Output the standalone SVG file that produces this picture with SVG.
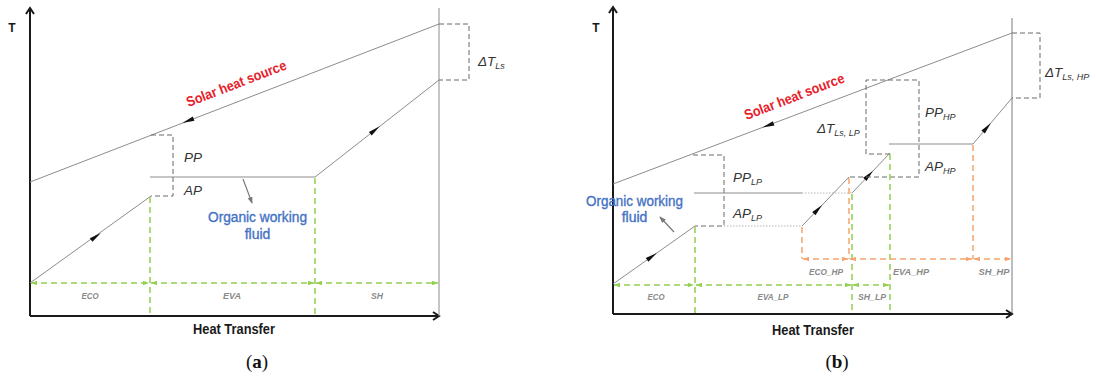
<svg xmlns="http://www.w3.org/2000/svg" width="1096" height="378" viewBox="0 0 1096 378">
<style>
.ax{stroke:#1a1a1a;stroke-width:2;fill:none}
.ln{stroke:#8c8c8c;stroke-width:1;fill:none}
.db{stroke:#6a6a6a;stroke-width:1;stroke-dasharray:5,3;fill:none}
.dot{stroke:#b8b8b8;stroke-width:1.2;stroke-dasharray:1.5,1.5;fill:none}
.gr{stroke:#92D050;stroke-width:1.5;stroke-dasharray:6,4;fill:none}
.og{stroke:#F5A46E;stroke-width:1.5;stroke-dasharray:6,4;fill:none}
.gra{stroke:#92D050;stroke-width:1.5;stroke-dasharray:6,4;fill:none;marker-start:url(#mg);marker-end:url(#mg)}
.oga{stroke:#F5A46E;stroke-width:1.5;stroke-dasharray:6,4;fill:none;marker-start:url(#mo);marker-end:url(#mo)}
.ptr{stroke:#777;stroke-width:1.2;fill:none;marker-end:url(#mp)}
text{font-family:"Liberation Sans",Arial,sans-serif}
.axl{font-weight:bold;font-size:14px;fill:#1a1a1a}
.tl{font-weight:bold;font-size:12px;fill:#1a1a1a}
.lab{font-style:italic;font-size:13.5px;fill:#333}
.sub{font-size:9px}
.seg{font-style:italic;font-weight:bold;font-size:9.5px;fill:#8a8a8a;text-anchor:middle}
.sol{font-weight:bold;font-size:14px;fill:#E8202A;text-anchor:middle}
.org{font-size:14px;fill:#4472C4;stroke:#4472C4;stroke-width:0.35;text-anchor:middle}
.cap{font-family:"Liberation Serif","Times New Roman",serif;font-size:19px;fill:#111;text-anchor:middle}
</style>
<defs>
<marker id="mg" viewBox="0 0 8 6" refX="8" refY="3" markerWidth="6" markerHeight="4.5" markerUnits="userSpaceOnUse" orient="auto-start-reverse"><path d="M0,0 L8,3 L0,6 Z" fill="#92D050"/></marker>
<marker id="mo" viewBox="0 0 8 6" refX="8" refY="3" markerWidth="6" markerHeight="4.5" markerUnits="userSpaceOnUse" orient="auto-start-reverse"><path d="M0,0 L8,3 L0,6 Z" fill="#F5A46E"/></marker>
<marker id="mp" viewBox="0 0 8 6" refX="7" refY="3" markerWidth="7" markerHeight="5" markerUnits="userSpaceOnUse" orient="auto"><path d="M0,0 L8,3 L0,6 Z" fill="#777"/></marker>
<path id="ah" d="M-6,-2.3 L6,0 L-6,2.3 Z" fill="#111"/>
</defs>

<!-- ============ Panel (a) ============ -->
<g id="panel-a">
  <g id="a-axes">
    <line class="ax" x1="30" y1="316" x2="30" y2="8"/>
    <path class="ax" d="M26,14 L30,8 L34,14" stroke-width="1.5"/>
    <line class="ax" x1="30" y1="316" x2="439" y2="316"/>
    <path class="ax" d="M433,312 L439,316 L433,320" stroke-width="1.5"/>
    <line x1="439" y1="8" x2="439" y2="316" stroke="#8c8c8c" stroke-width="1"/>
    <text class="tl" x="12" y="32" text-anchor="middle">T</text>
    <text class="axl" x="234" y="334" text-anchor="middle" textLength="82" lengthAdjust="spacingAndGlyphs">Heat Transfer</text>
    <text class="cap" x="257" y="368">(<tspan font-weight="bold">a</tspan>)</text>
  </g>
  <g id="a-solar">
    <line class="ln" x1="30" y1="182" x2="439" y2="24"/>
    <use href="#ah" transform="translate(188,120.8) rotate(158.8)"/>
    <text class="sol" transform="translate(238,88) rotate(-21)" textLength="106" lengthAdjust="spacingAndGlyphs">Solar heat source</text>
  </g>
  <g id="a-fluid">
    <path class="ln" d="M30,283 L151,196"/>
    <path class="ln" d="M150,177 L315,177 L439,80"/>
    <use href="#ah" transform="translate(96,236.5) rotate(-35.7)"/>
    <use href="#ah" transform="translate(375,130) rotate(-38)"/>
    <line class="ptr" x1="243" y1="179" x2="252" y2="203"/>
    <text class="org" x="257.5" y="222" textLength="99" lengthAdjust="spacingAndGlyphs">Organic working</text>
    <text class="org" x="257.5" y="238.5">fluid</text>
  </g>
  <g id="a-pinch">
    <path class="db" d="M151,135 H173 V196 H151"/>
    <text class="lab" x="184" y="162">PP</text>
    <text class="lab" x="184" y="195">AP</text>
  </g>
  <g id="a-dtls">
    <path class="db" d="M439,24 H469 V80 H439"/>
    <text class="lab" x="478" y="66">ΔT<tspan class="sub" dy="3">Ls</tspan></text>
  </g>
  <g id="a-sections">
    <line class="gr" x1="150" y1="197" x2="150" y2="316"/>
    <line class="gr" x1="315" y1="178" x2="315" y2="316"/>
    <line class="gra" x1="31" y1="283" x2="149" y2="283"/>
    <line class="gra" x1="151" y1="283" x2="314" y2="283"/>
    <line class="gra" x1="316" y1="283" x2="438" y2="283"/>
    <text class="seg" x="90" y="298.5" textLength="17" lengthAdjust="spacingAndGlyphs">ECO</text>
    <text class="seg" x="232" y="298.5" textLength="18" lengthAdjust="spacingAndGlyphs">EVA</text>
    <text class="seg" x="377" y="298.5" textLength="12" lengthAdjust="spacingAndGlyphs">SH</text>
  </g>
</g>

<!-- ============ Panel (b) ============ -->
<g id="panel-b">
  <g id="b-axes">
    <line class="ax" x1="613" y1="314" x2="613" y2="7"/>
    <path class="ax" d="M609,13 L613,7 L617,13" stroke-width="1.5"/>
    <line x1="1012" y1="18" x2="1012" y2="314" stroke="#bdbdbd" stroke-width="2"/>
    <line class="ax" x1="613" y1="314" x2="1012" y2="314"/>
    <path class="ax" d="M1006,310 L1012,314 L1006,318" stroke-width="1.5"/>
    <text class="tl" x="596" y="32" text-anchor="middle">T</text>
    <text class="axl" x="813" y="335" text-anchor="middle" textLength="82" lengthAdjust="spacingAndGlyphs">Heat Transfer</text>
    <text class="cap" x="837" y="368">(<tspan font-weight="bold">b</tspan>)</text>
  </g>
  <g id="b-solar">
    <line class="ln" x1="613" y1="184" x2="1012" y2="33"/>
    <use href="#ah" transform="translate(768,125.4) rotate(159.3)"/>
    <text class="sol" transform="translate(796,101) rotate(-21)" textLength="106" lengthAdjust="spacingAndGlyphs">Solar heat source</text>
  </g>
  <g id="b-fluid">
    <path class="ln" d="M613,284 L695,226"/>
    <path class="ln" d="M694,193 H802"/>
    <path class="dot" d="M724,226 H802"/>
    <path class="dot" d="M802,193 H852"/>
    <path class="ln" d="M802,226 L849,177"/>
    <path class="ln" d="M852,193 L890,153"/>
    <path class="ln" d="M889,144 H973 L1012,98"/>
    <use href="#ah" transform="translate(652,256.4) rotate(-35.3)"/>
    <use href="#ah" transform="translate(818,209.3) rotate(-46.2)"/>
    <use href="#ah" transform="translate(869,175) rotate(-46.5)"/>
    <use href="#ah" transform="translate(987,127.5) rotate(-49.7)"/>
    <line class="ptr" x1="674" y1="232" x2="660" y2="217"/>
    <text class="org" x="634.5" y="205.5" textLength="97" lengthAdjust="spacingAndGlyphs">Organic working</text>
    <text class="org" x="634.5" y="222">fluid</text>
  </g>
  <g id="b-pinch-lp">
    <path class="db" d="M693,155 H724 V226 H695"/>
    <text class="lab" x="733" y="182">PP<tspan class="sub" dy="3">LP</tspan></text>
    <text class="lab" x="733" y="218">AP<tspan class="sub" dy="3">LP</tspan></text>
  </g>
  <g id="b-pinch-hp">
    <path class="db" d="M890,154 H866 V80 H919 V177 H849"/>
    <text class="lab" x="817" y="133">ΔT<tspan class="sub" dy="3">Ls, LP</tspan></text>
    <text class="lab" x="925" y="117">PP<tspan class="sub" dy="3">HP</tspan></text>
    <text class="lab" x="925" y="171">AP<tspan class="sub" dy="3">HP</tspan></text>
  </g>
  <g id="b-dtls-hp">
    <path class="db" d="M1012,33 H1040 V98 H1012"/>
    <text class="lab" x="1045" y="77">ΔT<tspan class="sub" dy="3">Ls, HP</tspan></text>
  </g>
  <g id="b-sections-lp">
    <line class="gr" x1="695" y1="227" x2="695" y2="314"/>
    <line class="gr" x1="852" y1="194" x2="852" y2="314"/>
    <line class="gr" x1="890" y1="154" x2="890" y2="314"/>
    <line class="gra" x1="614" y1="285" x2="694" y2="285"/>
    <line class="gra" x1="696" y1="285" x2="851" y2="285"/>
    <line class="gra" x1="853" y1="285" x2="889" y2="285"/>
    <text class="seg" x="656" y="299.5" textLength="17" lengthAdjust="spacingAndGlyphs">ECO</text>
    <text class="seg" x="773" y="299.5" textLength="31" lengthAdjust="spacingAndGlyphs">EVA_LP</text>
    <text class="seg" x="872" y="299.5" textLength="28" lengthAdjust="spacingAndGlyphs">SH_LP</text>
  </g>
  <g id="b-sections-hp">
    <line class="og" x1="802" y1="227" x2="802" y2="259"/>
    <line class="og" x1="849" y1="178" x2="849" y2="259"/>
    <line class="og" x1="973" y1="145" x2="973" y2="259"/>
    <line class="oga" x1="803" y1="259" x2="848" y2="259"/>
    <line class="oga" x1="850" y1="259" x2="972" y2="259"/>
    <line class="oga" x1="974" y1="259" x2="1011" y2="259"/>
    <text class="seg" x="826" y="274.5" textLength="34" lengthAdjust="spacingAndGlyphs">ECO_HP</text>
    <text class="seg" x="911" y="274.5" textLength="36" lengthAdjust="spacingAndGlyphs">EVA_HP</text>
    <text class="seg" x="994" y="274.5" textLength="31" lengthAdjust="spacingAndGlyphs">SH_HP</text>
  </g>
</g>
</svg>
